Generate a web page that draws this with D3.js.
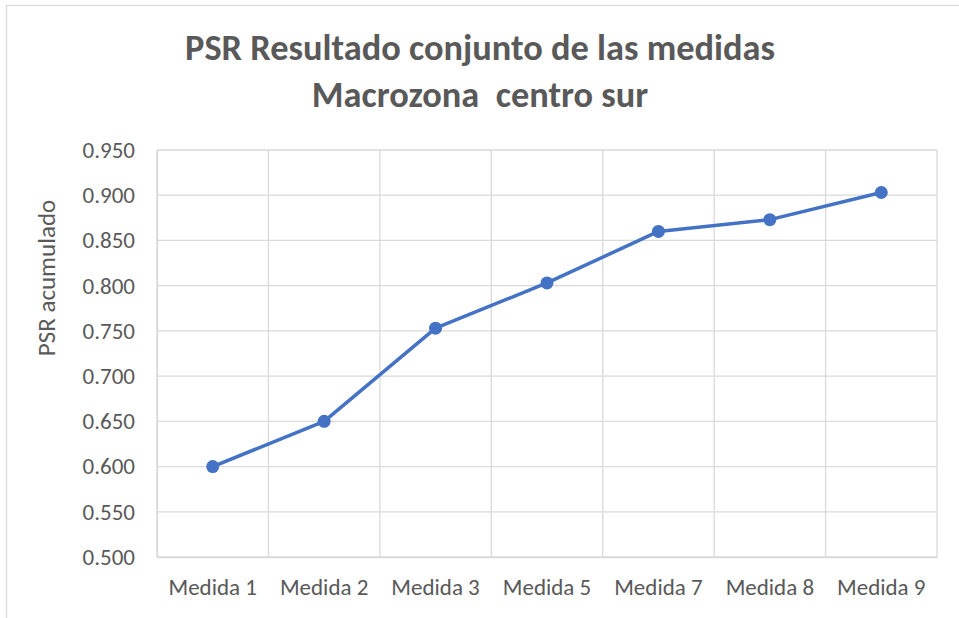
<!DOCTYPE html>
<html>
<head>
<meta charset="utf-8">
<script src="https://cdn.jsdelivr.net/npm/d3@7"></script>
<style>
  html, body { margin: 0; padding: 0; background: #fff; }
  svg { display: block; }
  text { font-family: Calibri, Carlito, "Open Sans", "Noto Sans", sans-serif; }
</style>
</head>
<body>
<svg id="chart" width="959" height="618"></svg>
<script>
// datos del gráfico
const categories = ['Medida 1', 'Medida 2', 'Medida 3', 'Medida 5', 'Medida 7', 'Medida 8', 'Medida 9'];
const psrValues = [0.600, 0.650, 0.753, 0.803, 0.860, 0.873, 0.903];
const yTicks = [0.500, 0.550, 0.600, 0.650, 0.700, 0.750, 0.800, 0.850, 0.900, 0.950];
const titleLines = ['PSR Resultado conjunto de las medidas', 'Macrozona  centro sur'];
const yTitle = 'PSR acumulado';

const svg = d3.select('#chart');
const margin = { left: 157, right: 937, top: 150, bottom: 557 };
const fontStack = 'Calibri, Carlito, "Open Sans", sans-serif';

// marco del gráfico
svg.append('rect')
  .attr('x', 6.5).attr('y', 5.5)
  .attr('width', 960).attr('height', 620)
  .attr('fill', 'none').attr('stroke', '#d9d9d9').attr('stroke-width', 1.3);

const x = d3.scaleBand().domain(categories).range([margin.left, margin.right]);
const y = d3.scaleLinear().domain([0.5, 0.95]).range([margin.bottom, margin.top]);

// rejilla horizontal
svg.append('g')
  .selectAll('line')
  .data(yTicks)
  .join('line')
  .attr('x1', margin.left).attr('x2', margin.right)
  .attr('y1', d => y(d)).attr('y2', d => y(d))
  .attr('stroke', '#d9d9d9').attr('stroke-width', 1.3);

// rejilla vertical
svg.append('g')
  .selectAll('line')
  .data(categories)
  .join('line')
  .attr('x1', d => x(d)).attr('x2', d => x(d))
  .attr('y1', margin.top).attr('y2', margin.bottom)
  .attr('stroke', '#d9d9d9').attr('stroke-width', 1.3);

svg.append('line')
  .attr('x1', margin.right).attr('x2', margin.right)
  .attr('y1', margin.top).attr('y2', margin.bottom)
  .attr('stroke', '#d9d9d9').attr('stroke-width', 1.3);

// ejes
const yAxis = svg.append('g')
  .attr('transform', `translate(${margin.left},0)`)
  .call(d3.axisLeft(y).tickValues(yTicks).tickFormat(d3.format('.3f')).tickSize(0).tickPadding(22));
yAxis.select('.domain').attr('stroke', '#d9d9d9').attr('stroke-width', 1.3);
yAxis.selectAll('text').attr('fill', '#595959').style('font-size', '23px')
  .style('font-family', fontStack);

const xAxis = svg.append('g')
  .attr('transform', `translate(0,${margin.bottom})`)
  .call(d3.axisBottom(x).tickSize(0).tickPadding(21.5));
xAxis.select('.domain').attr('stroke', '#d9d9d9').attr('stroke-width', 1.3);
xAxis.selectAll('text').attr('fill', '#595959').style('font-size', '23px')
  .style('font-family', fontStack);

// línea y marcadores
const line = d3.line()
  .x((d, i) => x(categories[i]) + x.bandwidth() / 2)
  .y(d => y(d));

svg.append('path')
  .datum(psrValues)
  .attr('d', line)
  .attr('fill', 'none')
  .attr('stroke', '#4472c4')
  .attr('stroke-width', 3.5)
  .attr('stroke-linejoin', 'round');

svg.append('g')
  .selectAll('circle')
  .data(psrValues)
  .join('circle')
  .attr('cx', (d, i) => x(categories[i]) + x.bandwidth() / 2)
  .attr('cy', d => y(d))
  .attr('r', 6.5)
  .attr('fill', '#4472c4');

// título
const title = svg.append('g');
titleLines.forEach((t, i) => {
  title.append('text')
    .attr('x', 480)
    .attr('y', 59.5 + i * 47)
    .attr('text-anchor', 'middle')
    .attr('fill', '#595959')
    .style('font-size', '32px')
    .style('font-weight', 'bold')
    .style('white-space', 'pre')
    .text(t);
});
// ajustar ancho del título como en la referencia (~590px)
const first = title.select('text').node();
const w = first.getComputedTextLength();
if (w > 0) {
  const fs = 32 * 590 / w;
  title.selectAll('text').style('font-size', fs + 'px');
}

// título eje Y
svg.append('text')
  .attr('transform', 'translate(55,278) rotate(-90)')
  .attr('text-anchor', 'middle')
  .attr('fill', '#595959')
  .style('font-size', '25px')
  .text(yTitle);
</script>
</body>
</html>
